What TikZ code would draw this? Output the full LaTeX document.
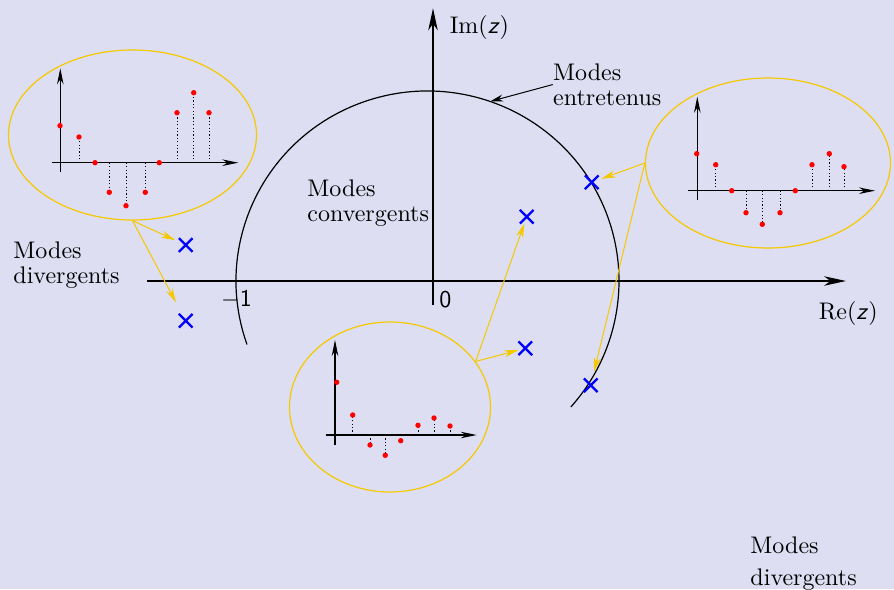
\documentclass[tikz,border=0pt]{standalone}
\usetikzlibrary{arrows.meta,shapes.geometric,shapes.misc}
\definecolor{bgc}{RGB}{221,222,242}
\definecolor{ycol}{RGB}{245,200,0}
\begin{document}
\begin{tikzpicture}[x=1pt,y=-1pt,
  lbl/.style={font=\fontsize{10}{10.2}\selectfont, scale=2.4, transform shape, inner sep=0pt, align=left},
  maxis/.style={line width=1.3pt, -{Stealth[length=22pt,width=9.5pt,inset=6.5pt]}},
  iaxis/.style={line width=1.2pt, -{Stealth[length=16pt,width=6.5pt,inset=5pt]}},
  stem/.style={line width=1pt, dash pattern=on 1.2pt off 2.2pt},
  mode/.style={cross out, draw=blue, line width=2.3pt, minimum size=11.4pt, inner sep=0pt},
  zoomell/.style={ellipse, draw=ycol, line width=1.2pt, inner sep=0pt, minimum height=170pt},
  yarr/.style={draw=ycol, line width=1pt, -{Stealth[length=14pt,width=7pt,inset=4pt]}},
  earr/.style={line width=1pt, -{Stealth[length=13pt,width=7pt,inset=4pt]}}]
\fill[bgc] (0,0) rectangle (894,589);
\useasboundingbox (0,0) rectangle (894,589);

% zoom ellipses
\node[zoomell, minimum width=248pt] (L) at (132.5,135) {};
\node[zoomell, minimum width=245pt] (R) at (768,163) {};
\node[zoomell, minimum width=201pt] (B) at (390,407) {};

% unit circle (arc)
\draw[line width=1.2pt] ([shift={(-199.5:191.5 and 190)}]427.5,281) arc[start angle=-199.5, end angle=41.5, x radius=191.5, y radius=190];
\coordinate (ep) at ([shift={(-70.9:191.5 and 190)}]427.5,281);

% main axes
\draw[maxis] (147,281) -- (846,281);
\draw[maxis] (433,305) -- (433,8.3);

% left inset
\foreach \px/\py in {79/137, 109.3/192.3, 126/205.7, 145.3/192.3, 177/112.7, 193.7/92.7, 209/112.7}
  {\draw[stem] (\px,162.7) -- (\px,\py);}
\draw[iaxis] (51.7,162.7) -- (238.3,162.7);
\draw[iaxis] (60.3,171.7) -- (60.3,68.3);
\foreach \px/\py in {60/125.7, 79/137, 95/162.7, 109.3/192.3, 126/205.7, 145.3/192.3, 159.3/162.7, 177/112.7, 193.7/92.7, 209/112.7}
  {\fill[red] (\px,\py) circle[radius=2.7pt];}

% right inset
\foreach \px/\py in {715.7/164.7, 746/212.7, 762.3/224.3, 780/212.7, 812/164.7, 829.3/153.7, 844/166.7}
  {\draw[stem] (\px,190.7) -- (\px,\py);}
\draw[iaxis] (688.3,190.7) -- (875,190.7);
\draw[iaxis] (697.3,200) -- (697.3,96.7);
\foreach \px/\py in {696.7/153.7, 715.7/164.7, 731.7/190.7, 746/212.7, 762.3/224.3, 780/212.7, 795.3/190.7, 812/164.7, 829.3/153.7, 844/166.7}
  {\fill[red] (\px,\py) circle[radius=2.7pt];}

% bottom inset
\foreach \px/\py in {352.7/415, 370/445, 385.3/455.3, 400.7/440.7, 418/425.3, 434/418, 450/426}
  {\draw[stem] (\px,435) -- (\px,\py);}
\draw[iaxis] (326,435) -- (476.7,435);
\draw[iaxis] (335,445) -- (335,340);
\foreach \px/\py in {336.7/382.3, 352.7/415, 370/445, 385.3/455.3, 400.7/440.7, 418/425.3, 434/418, 450/426}
  {\fill[red] (\px,\py) circle[radius=2.7pt];}

% modes (poles)
\node[mode] (c1) at (185.7,245) {};
\node[mode] (c2) at (185.7,320.7) {};
\node[mode] (c3) at (526.7,216.7) {};
\node[mode] (c4) at (525.3,348.3) {};
\node[mode] (c5) at (591.7,182.3) {};
\node[mode] (c6) at (590.7,385.3) {};

% yellow connectors
\draw[yarr, shorten >=4pt] (L.south) -- (c1);
\draw[yarr, shorten >=13pt] (L.south) -- (c2);
\draw[yarr] (B.28.6) -- (c3);
\draw[yarr] (B.28.6) -- (c4);
\draw[yarr, shorten >=3pt] (R.west) -- (c5);
\draw[yarr, shorten >=7pt] (R.west) -- (c6);

% labels
\node[lbl, anchor=base west] (ent) at (552.7,105) {Modes\\entretenus};
\draw[earr] (ent.west) -- (ep);
\node[lbl, anchor=base west] (conv) at (307,221) {Modes\\convergents};
\node[lbl, anchor=base west] (divl) at (13,283.3) {Modes\\divergents};
\node[lbl, anchor=base west] (divr) at (750,585) {Modes\\[3.1pt]divergents};
\node[lbl, anchor=base west] (im) at (449.3,33.3) {Im(\textsf{\itshape z})};
\node[lbl, anchor=base west] (re) at (818.3,319.3) {Re(\textsf{\itshape z})};
\node[lbl, anchor=base west] (zero) at (439,307.3) {\textsf{0}};
\node[lbl, anchor=base west] (mone) at (220.7,306.7) {$-$\textsf{1}};
\end{tikzpicture}
\end{document}
